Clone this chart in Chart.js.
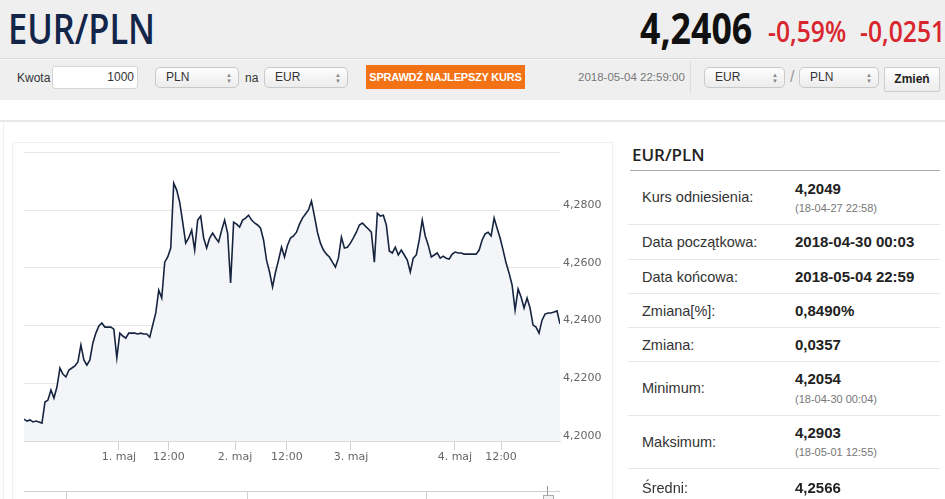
<!DOCTYPE html>
<html>
<head>
<meta charset="utf-8">
<script src="https://cdn.jsdelivr.net/npm/chart.js@4.4.1/dist/chart.umd.min.js"></script>
<style>
  html,body{margin:0;padding:0;width:945px;height:499px;overflow:hidden;background:#fff;font-family:"Liberation Sans",Arial,sans-serif;}
  .abs{position:absolute;}
  #hdr{left:0;top:0;width:945px;height:100px;background:#efefef;}
  .big{font-family:"Open Sans",sans-serif;font-weight:700;white-space:nowrap;transform-origin:0 0;line-height:1;}
  .sel{border:1px solid #c9c9c9;border-radius:5px;background:linear-gradient(#fdfdfd,#ececec);height:21px;box-sizing:border-box;font-size:12px;color:#333;line-height:19px;padding-left:10px;}
  .sel .arr{position:absolute;right:6px;top:4px;font-size:6px;line-height:6px;color:#888;}
  .lbl{font-size:12px;color:#333;}
  .row{position:absolute;left:628px;width:312px;border-top:1px solid #e6e6e6;}
  .rl{position:absolute;left:14px;font-size:14.5px;color:#333;white-space:nowrap;}
  .rv{position:absolute;left:167px;font-size:15px;font-weight:700;color:#222;white-space:nowrap;}
  .rs{position:absolute;left:167px;font-size:11px;color:#777;white-space:nowrap;}
</style>
</head>
<body>
<div id="hdr" class="abs">
  <div class="abs big" style="left:8px;top:7px;font-size:42px;font-weight:600;color:#14254a;transform:scaleX(0.82);">EUR/PLN</div>
  <div class="abs big" style="left:640px;top:6px;font-size:43px;color:#111;transform:scaleX(0.83);">4,2406</div>
  <div class="abs big" style="left:768px;top:17px;font-size:28px;font-weight:600;color:#d9262e;transform:scaleX(0.88);">-0,59%</div>
  <div class="abs big" style="left:860px;top:17px;font-size:28px;font-weight:600;color:#d9262e;transform:scaleX(0.88);">-0,0251</div>
  <div class="abs" style="left:0;top:58px;width:945px;height:1px;background:#dadada;"></div>
  <div class="abs" style="left:0;top:59px;width:945px;height:1px;background:#f7f7f7;"></div>

  <div class="abs lbl" style="left:17px;top:71px;">Kwota</div>
  <div class="abs" style="left:52px;top:66px;width:86px;height:23px;box-sizing:border-box;background:#fff;border:1px solid #d5d5d5;border-radius:3px;font-size:12px;color:#333;text-align:right;padding-right:3px;line-height:21px;">1000</div>
  <div class="abs sel" style="left:155px;top:67px;width:84px;">PLN<span class="arr">▲<br>▼</span></div>
  <div class="abs lbl" style="left:245px;top:71px;">na</div>
  <div class="abs sel" style="left:264px;top:67px;width:84px;">EUR<span class="arr">▲<br>▼</span></div>
  <div class="abs" style="left:366px;top:65px;width:159px;height:24px;background:#f47216;color:#fff;font-size:11px;font-weight:700;text-align:center;line-height:24px;letter-spacing:-0.2px;">SPRAWDŹ NAJLEPSZY KURS</div>
  <div class="abs" style="left:578px;top:71px;font-size:11.5px;color:#777;">2018-05-04 22:59:00</div>
  <div class="abs" style="left:690px;top:62px;width:1px;height:32px;background:#dddddd;"></div>
  <div class="abs sel" style="left:704px;top:67px;width:81px;">EUR<span class="arr">▲<br>▼</span></div>
  <div class="abs lbl" style="left:790px;top:68px;font-size:16px;color:#999;">/</div>
  <div class="abs sel" style="left:799px;top:67px;width:80px;">PLN<span class="arr">▲<br>▼</span></div>
  <div class="abs" style="left:884px;top:67px;width:56px;height:25px;box-sizing:border-box;border:1px solid #ccc;border-radius:2px;background:linear-gradient(#fff,#ececec);font-size:12px;font-weight:700;color:#222;text-align:center;line-height:23px;">Zmień</div>
</div>

<div class="abs" style="left:0;top:120px;width:945px;height:2px;background:#e8e8e8;"></div>
<div class="abs" style="left:3px;top:122px;width:1px;height:377px;background:#f0f0f0;"></div>
<div class="abs" style="left:12px;top:142px;width:601px;height:357px;box-sizing:border-box;border:1px solid #f0f0f0;border-bottom:none;"></div>

<div class="abs" style="left:12px;top:143px;width:601px;height:356px;">
  <canvas id="c"></canvas>
</div>

<!-- navigator strip (partially visible) -->
<div class="abs" style="left:24px;top:491px;width:536px;height:1px;background:#cfcfcf;"></div>
<div class="abs" style="left:66px;top:491px;width:1px;height:8px;background:#cfcfcf;"></div>
<div class="abs" style="left:247px;top:491px;width:1px;height:8px;background:#cfcfcf;"></div>
<div class="abs" style="left:426px;top:491px;width:1px;height:8px;background:#cfcfcf;"></div>
<div class="abs" style="left:547px;top:486px;width:1px;height:13px;background:#999;"></div>
<div class="abs" style="left:543px;top:495px;width:9px;height:4px;border:1px solid #aaa;border-bottom:none;background:#f2f2f2;"></div>

<!-- right statistics panel -->
<div class="abs" style="left:632px;top:143px;font-family:'Open Sans',sans-serif;font-weight:600;font-size:17px;color:#222;">EUR/PLN</div>
<div class="abs" style="left:630px;top:170px;width:310px;height:1px;background:#aaa;"></div>

<div class="row" style="top:171px;height:53px;border-top:none;">
  <div class="rl" style="top:18px;">Kurs odniesienia:</div>
  <div class="rv" style="top:9px;">4,2049</div>
  <div class="rs" style="top:31px;">(18-04-27 22:58)</div>
</div>
<div class="row" style="top:224px;height:35px;">
  <div class="rl" style="top:9px;">Data początkowa:</div>
  <div class="rv" style="top:8px;">2018-04-30 00:03</div>
</div>
<div class="row" style="top:259px;height:34px;">
  <div class="rl" style="top:9px;">Data końcowa:</div>
  <div class="rv" style="top:8px;">2018-05-04 22:59</div>
</div>
<div class="row" style="top:293px;height:34px;">
  <div class="rl" style="top:9px;">Zmiana[%]:</div>
  <div class="rv" style="top:8px;">0,8490%</div>
</div>
<div class="row" style="top:327px;height:34px;">
  <div class="rl" style="top:9px;">Zmiana:</div>
  <div class="rv" style="top:8px;">0,0357</div>
</div>
<div class="row" style="top:361px;height:54px;">
  <div class="rl" style="top:18px;">Minimum:</div>
  <div class="rv" style="top:8px;">4,2054</div>
  <div class="rs" style="top:31px;">(18-04-30 00:04)</div>
</div>
<div class="row" style="top:415px;height:53px;">
  <div class="rl" style="top:18px;">Maksimum:</div>
  <div class="rv" style="top:8px;">4,2903</div>
  <div class="rs" style="top:30px;">(18-05-01 12:55)</div>
</div>
<div class="row" style="top:468px;height:34px;">
  <div class="rl" style="top:11px;">Średni:</div>
  <div class="rv" style="top:10px;">4,2566</div>
</div>

<script>
// ---- data (ordinal samples, 2018-04-30 00:03 .. 2018-05-04 22:59) ----
const prices = [
  4.2076,4.2069,4.2073,4.2066,4.2069,4.2066,4.2062,4.2135,4.2142,4.2177,
  4.2149,4.2187,4.2253,4.2232,4.2222,4.2246,4.2253,4.2260,4.2274,4.2333,
  4.2281,4.2263,4.2281,4.2340,4.2374,4.2399,4.2409,4.2395,4.2395,4.2395,
  4.2388,4.2288,4.2374,4.2364,4.2357,4.2374,4.2374,4.2374,4.2371,4.2374,
  4.2371,4.2371,4.2360,4.2402,4.2444,4.2523,4.2496,4.2620,4.2638,4.2669,
  4.2894,4.2870,4.2828,4.2759,4.2686,4.2704,4.2731,4.2662,4.2766,4.2780,
  4.2704,4.2669,4.2704,4.2721,4.2704,4.2690,4.2731,4.2766,4.2721,4.2548,
  4.2759,4.2752,4.2742,4.2766,4.2773,4.2783,4.2766,4.2756,4.2749,4.2738,
  4.2697,4.2627,4.2586,4.2534,4.2586,4.2627,4.2672,4.2638,4.2679,4.2704,
  4.2711,4.2724,4.2752,4.2773,4.2787,4.2801,4.2832,4.2780,4.2724,4.2686,
  4.2662,4.2648,4.2638,4.2620,4.2603,4.2634,4.2707,4.2669,4.2672,4.2686,
  4.2704,4.2724,4.2749,4.2756,4.2745,4.2735,4.2724,4.2620,4.2790,4.2780,
  4.2783,4.2749,4.2659,4.2652,4.2672,4.2645,4.2662,4.2645,4.2627,4.2586,
  4.2634,4.2645,4.2697,4.2766,4.2711,4.2679,4.2638,4.2645,4.2652,4.2634,
  4.2641,4.2634,4.2631,4.2648,4.2655,4.2652,4.2652,4.2648,4.2648,4.2648,
  4.2648,4.2648,4.2662,4.2697,4.2718,4.2724,4.2711,4.2773,4.2738,4.2704,
  4.2662,4.2617,4.2582,4.2541,4.2454,4.2527,4.2499,4.2461,4.2496,4.2461,
  4.2402,4.2395,4.2374,4.2419,4.2440,4.2444,4.2444,4.2447,4.2451,4.2406
];
const tickLabels = ['1. maj','12:00','2. maj','12:00','3. maj','4. maj','12:00'];
const tickIndex  = [31.7, 48.4, 70.5, 87.8, 109.2, 143.9, 159.3];
const yTicks = [4.20, 4.22, 4.24, 4.26, 4.28, 4.30];

const points = prices.map((p, i) => ({x: i, y: p}));

new Chart(document.getElementById('c'), {
  type: 'line',
  data: {
    datasets: [{
      data: points,
      borderColor: '#16243f',
      borderWidth: 1.6,
      pointRadius: 0,
      tension: 0,
      fill: 'start',
      backgroundColor: '#f3f5f8'
    }]
  },
  options: {
    responsive: true,
    maintainAspectRatio: false,
    animation: false,
    events: [],
    layout: {padding: {left: 12, top: 9, right: 0, bottom: 0}},
    plugins: {legend: {display: false}, tooltip: {enabled: false}},
    scales: {
      x: {
        type: 'linear',
        min: 0,
        max: prices.length - 1,
        afterBuildTicks: s => { s.ticks = tickIndex.map(v => ({value: v})); },
        afterFit: s => { s.height = 58; },
        grid: {drawOnChartArea: false, drawTicks: true, tickLength: 9, color: '#d0d0d0'},
        border: {display: true, color: '#d8d8d8'},
        ticks: {
          autoSkip: false, maxRotation: 0, padding: 1,
          color: '#666', font: {family: 'DejaVu Sans', size: 11},
          callback: (v, i) => tickLabels[i]
        }
      },
      y: {
        position: 'right',
        min: 4.20,
        max: 4.30,
        afterBuildTicks: s => { s.ticks = yTicks.map(v => ({value: v})); },
        afterFit: s => { s.width = 53; },
        grid: {color: '#e6e6e6', drawTicks: false},
        border: {display: false},
        ticks: {
          padding: 3, labelOffset: -5,
          color: '#666', font: {family: 'DejaVu Sans', size: 11},
          callback: v => v > 4.299 ? '' : v.toFixed(4).replace('.', ',')
        }
      }
    }
  }
});
</script>
</body>
</html>
